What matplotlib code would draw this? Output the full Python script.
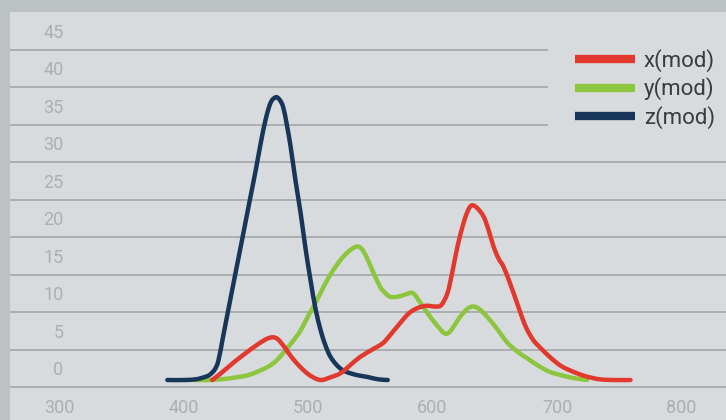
import matplotlib
matplotlib.use('Agg')
import matplotlib.pyplot as plt
from matplotlib.path import Path
from matplotlib.patches import PathPatch
from matplotlib.lines import Line2D

# values
x_red = [423, 430, 440, 450, 460, 467, 472, 476, 481, 487, 494, 500, 506, 511, 517, 526, 534, 542, 552,
         560, 566, 574, 581, 588, 595, 602, 607, 612, 616, 620, 625, 629, 632, 636, 641, 645, 649, 653,
         657, 662, 668, 672, 676, 681, 686, 694, 703, 713, 723, 734, 746, 759]
v_red = [0, 0.9, 2.3, 3.6, 4.8, 5.5, 5.7, 5.4, 4.4, 3.0, 1.7, 0.8, 0.2, 0, 0.3, 0.9, 2.0, 3.1, 4.1,
         4.9, 6.0, 7.6, 8.9, 9.6, 9.9, 9.8, 10.0, 11.6, 14.5, 17.8, 21.0, 22.8, 23.3, 22.9, 21.8, 20.0, 17.8, 16.2,
         15.1, 13.0, 10.2, 8.3, 6.7, 5.3, 4.4, 3.1, 1.9, 1.1, 0.5, 0.1, 0, 0]

x_green = [408, 420, 430, 440, 453, 467, 474, 480, 487, 494, 500, 507, 513, 520, 527, 533, 539, 543, 547,
           552, 558, 562, 566, 572, 578, 584, 589, 596, 603, 609, 613, 618, 622, 628, 633, 638, 644, 651,
           660, 668, 676, 685, 694, 702, 712, 724]
v_green = [0, 0, 0.1, 0.3, 0.7, 1.7, 2.5, 3.6, 5.0, 6.6, 8.5, 10.6, 12.6, 14.6, 16.2, 17.2, 17.8, 17.5, 16.4,
           14.5, 12.4, 11.6, 11.1, 11.1, 11.4, 11.6, 10.6, 8.9, 7.4, 6.3, 6.3, 7.4, 8.4, 9.5, 9.8, 9.4, 8.4, 7.0,
           5.0, 3.8, 2.9, 1.9, 1.1, 0.7, 0.3, 0]

x_blue = [387, 400, 410, 417, 421, 425, 428, 432, 436, 440, 447, 453, 458, 462, 466, 470, 474, 477, 480,
          483, 486, 490, 494, 498, 502, 506, 510, 514, 518, 523, 528, 534, 541, 548, 556, 564]
v_blue = [0, 0, 0.1, 0.4, 0.7, 1.4, 2.6, 6.0, 9.4, 12.8, 18.7, 23.8, 28.0, 31.6, 34.8, 37.0, 37.7, 37.4, 36.4,
          34.0, 31.1, 26.5, 22.3, 17.5, 13.3, 9.5, 6.7, 4.6, 3.1, 2.0, 1.3, 0.9, 0.6, 0.4, 0.1, 0]

y_labels = [0, 5, 10, 15, 20, 25, 30, 35, 40, 45]
x_labels = [300, 400, 500, 600, 700, 800]
names = ['x(mod)', 'y(mod)', 'z(mod)']

red = '#e2382d'
green = '#8cc63e'
navy = '#17365a'
panel = '#d8dbdd'
outer = '#bcc1c3'
gridc = '#a7abae'
labc = '#abafb2'


def smooth_path(xs, ys):
    # catmull-rom through the read points, drawn as bezier segments
    verts = [(xs[0], ys[0])]
    codes = [Path.MOVETO]
    n = len(xs)
    for i in range(n - 1):
        x0, y0 = (xs[i - 1], ys[i - 1]) if i > 0 else (xs[i], ys[i])
        x1, y1 = xs[i], ys[i]
        x2, y2 = xs[i + 1], ys[i + 1]
        x3, y3 = (xs[i + 2], ys[i + 2]) if i + 2 < n else (x2, y2)
        c1 = (x1 + (x2 - x0) / 6, y1 + (y2 - y0) / 6)
        c2 = (x2 - (x3 - x1) / 6, y2 - (y3 - y1) / 6)
        verts += [c1, c2, (x2, y2)]
        codes += [Path.CURVE4] * 3
    return Path(verts, codes)


plt.rcParams['font.family'] = ['Roboto', 'DejaVu Sans']

fig = plt.figure(figsize=(7.26, 4.2), dpi=100, facecolor=outer)
ax = fig.add_axes([10/726, 0, 716/726, 408/420])
ax.set_facecolor(panel)
ax.set_xlim(260.6, 835.7)
ax.set_ylim(-5.33, 49.07)
for s in ax.spines.values():
    s.set_visible(False)
ax.set_xticks([])
ax.set_yticks([])

# horizontal bands, the top three stop short of the legend
for k, v in enumerate(y_labels):
    g = v - 0.95
    xmax = 692.8 if k >= 7 else 835.7
    ax.plot([260.6, xmax], [g, g], color=gridc, lw=1.3, zorder=1, solid_capstyle='butt')

for v in y_labels:
    ax.text(303.5, v + 1.3, str(v), ha='right', va='center', fontsize=13, color=labc)
for v in x_labels:
    ax.text(v, -3.7, str(v), ha='center', va='center', fontsize=13, color=labc)

series = [(x_green, v_green, green, 3), (x_blue, v_blue, navy, 4), (x_red, v_red, red, 5)]
for xs, vs, c, z in series:
    ax.add_patch(PathPatch(smooth_path(xs, vs), facecolor='none', edgecolor=c, lw=3.2,
                           joinstyle='round', capstyle='round', zorder=z))

handles = [Line2D([], [], color=c, lw=6, solid_capstyle='butt') for c in [red, green, navy]]
leg = ax.legend(handles, names, loc='center left',
                bbox_to_anchor=(575/726, 1 - 89/420), bbox_transform=fig.transFigure,
                frameon=False, fontsize=16, handlelength=2.7, handletextpad=0.4,
                labelspacing=0.25, borderpad=0, borderaxespad=0)
for t in leg.get_texts():
    t.set_color('#3a3d40')

plt.savefig('out.png', dpi=100, facecolor=outer)
plt.close()
